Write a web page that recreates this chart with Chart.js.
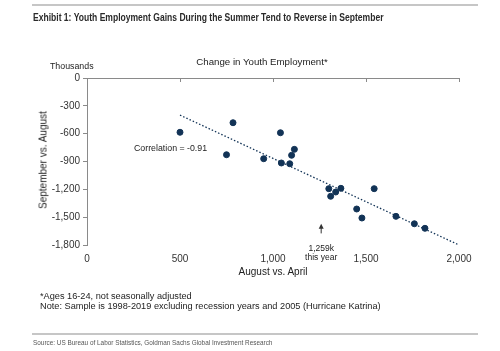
<!DOCTYPE html>
<html>
<head>
<meta charset="utf-8">
<script src="https://cdn.jsdelivr.net/npm/chart.js@4.4.0/dist/chart.umd.min.js"></script>
<style>
  body { margin: 0; background: #fff; }
  #wrap { position: relative; width: 500px; height: 351px; overflow: hidden;
          font-family: "Liberation Sans", Arial, sans-serif; color: #222; }
  canvas { position: absolute; left: 0; top: 0; }
  .t { position: absolute; white-space: nowrap; }
  .narrow { transform-origin: 0 0; }
  .rule { position: absolute; left: 32px; width: 446px; height: 2px; background: #c6c6c6; }
</style>
</head>
<body>
<div id="wrap">
  <canvas id="chart" width="500" height="351"></canvas>
  <div class="rule" style="top:4px"></div>
  <div class="t narrow" style="left:33px;top:11px;font-weight:bold;font-size:10.5px;color:#2a2a2a;transform:scaleX(0.814)">Exhibit 1: Youth Employment Gains During the Summer Tend to Reverse in September</div>
  <div class="t" style="left:50px;top:61px;font-size:8.8px">Thousands</div>
  <div class="t" style="left:0;width:524px;text-align:center;top:56px;font-size:9.7px">Change in Youth Employment*</div>
  <div class="t" style="left:43px;top:160px;font-size:10px;transform:translate(-50%,-50%) rotate(-90deg)">September vs. August</div>
  <div class="t" style="left:173px;width:200px;text-align:center;top:266px;font-size:10px">August vs. April</div>
  <div class="t" style="left:134px;top:143px;font-size:8.8px">Correlation = -0.91</div>
  <div class="t" style="left:40px;top:291px;font-size:9.2px">*Ages 16-24, not seasonally adjusted</div>
  <div class="t" style="left:40px;top:301px;font-size:9.2px">Note: Sample is 1998-2019 excluding recession years and 2005 (Hurricane Katrina)</div>
  <div class="rule" style="top:333px"></div>
  <div class="t narrow" style="left:33px;top:338px;font-size:8px;color:#555;transform:scaleX(0.8)">Source: US Bureau of Labor Statistics, Goldman Sachs Global Investment Research</div>
</div>
<script>
// August vs. April change (x) and September vs. August change (y), thousands
const augVsApril = [500, 785, 750, 950, 1040, 1045, 1090, 1100, 1115, 1300, 1310, 1337, 1365, 1544, 1450, 1478, 1661, 1760, 1817];
const sepVsAug   = [-585, -482, -827, -870, -590, -916, -924, -833, -769, -1193, -1275, -1229, -1189, -1193, -1412, -1509, -1491, -1571, -1620];

// dotted trend line end points
const trendX = [500, 2000];
const trendY = [-400, -1800];

// "this year" marker
const thisYearX = 1259;
const arrowY = [-1675, -1570];

const xTicks = [0, 500, 1000, 1500, 2000];
const yTicks = [0, -300, -600, -900, -1200, -1500, -1800];

const navy = '#123356';

const notes = {
  id: 'notes',
  afterDatasetsDraw(chart) {
    const { ctx, scales: { x, y } } = chart;
    const ax = x.getPixelForValue(thisYearX);
    const y0 = y.getPixelForValue(arrowY[0]);
    const y1 = y.getPixelForValue(arrowY[1]);
    ctx.save();
    ctx.strokeStyle = '#333';
    ctx.fillStyle = '#333';
    ctx.lineWidth = 1;
    ctx.beginPath();
    ctx.moveTo(ax, y0);
    ctx.lineTo(ax, y1 + 3);
    ctx.stroke();
    ctx.beginPath();
    ctx.moveTo(ax, y1);
    ctx.lineTo(ax - 2.5, y1 + 5);
    ctx.lineTo(ax + 2.5, y1 + 5);
    ctx.closePath();
    ctx.fill();
    ctx.font = '8.5px "Liberation Sans", Arial, sans-serif';
    ctx.textAlign = 'center';
    ctx.textBaseline = 'middle';
    ctx.fillStyle = '#222';
    ctx.fillText('1,259k', ax, 249);
    ctx.fillText('this year', ax, 257.5);
    ctx.restore();
  }
};

new Chart(document.getElementById('chart'), {
  type: 'scatter',
  data: {
    datasets: [{
      label: 'Years',
      data: augVsApril.map((v, i) => ({ x: v, y: sepVsAug[i] })),
      backgroundColor: navy,
      borderColor: navy,
      pointRadius: 3,
      pointHoverRadius: 3
    }, {
      label: 'Trend',
      type: 'line',
      data: trendX.map((v, i) => ({ x: v, y: trendY[i] })),
      borderColor: navy,
      borderWidth: 1.3,
      borderDash: [1.5, 2],
      pointRadius: 0,
      fill: false
    }]
  },
  options: {
    responsive: false,
    animation: false,
    layout: { padding: { top: 78, right: 41, left: 0, bottom: 0 } },
    plugins: { legend: { display: false }, tooltip: { enabled: false } },
    scales: {
      x: {
        type: 'linear', position: 'bottom', min: 0, max: 2000,
        afterFit: s => { s.height = 106; },
        afterBuildTicks: s => { s.ticks = xTicks.map(v => ({ value: v })); },
        border: { display: false },
        grid: { display: false },
        ticks: { padding: 0, color: '#333', maxRotation: 0, font: { size: 10, family: '"Liberation Sans", Arial, sans-serif' } }
      },
      x2: {
        type: 'linear', axis: 'x', position: { y: 0 }, min: 0, max: 2000,
        afterBuildTicks: s => { s.ticks = xTicks.map(v => ({ value: v })); },
        border: { color: '#8a8a8a', width: 1 },
        grid: { drawOnChartArea: false, tickLength: 3, color: '#8a8a8a' },
        ticks: { display: false }
      },
      y: {
        min: -1800, max: 0,
        afterFit: s => { s.width = 87; },
        afterBuildTicks: s => { s.ticks = yTicks.map(v => ({ value: v })); },
        border: { color: '#8a8a8a', width: 1 },
        grid: { drawOnChartArea: false, tickLength: 4, color: '#8a8a8a' },
        ticks: { padding: 3, color: '#333', font: { size: 10, family: '"Liberation Sans", Arial, sans-serif' } }
      }
    }
  },
  plugins: [notes]
});
</script>
</body>
</html>
